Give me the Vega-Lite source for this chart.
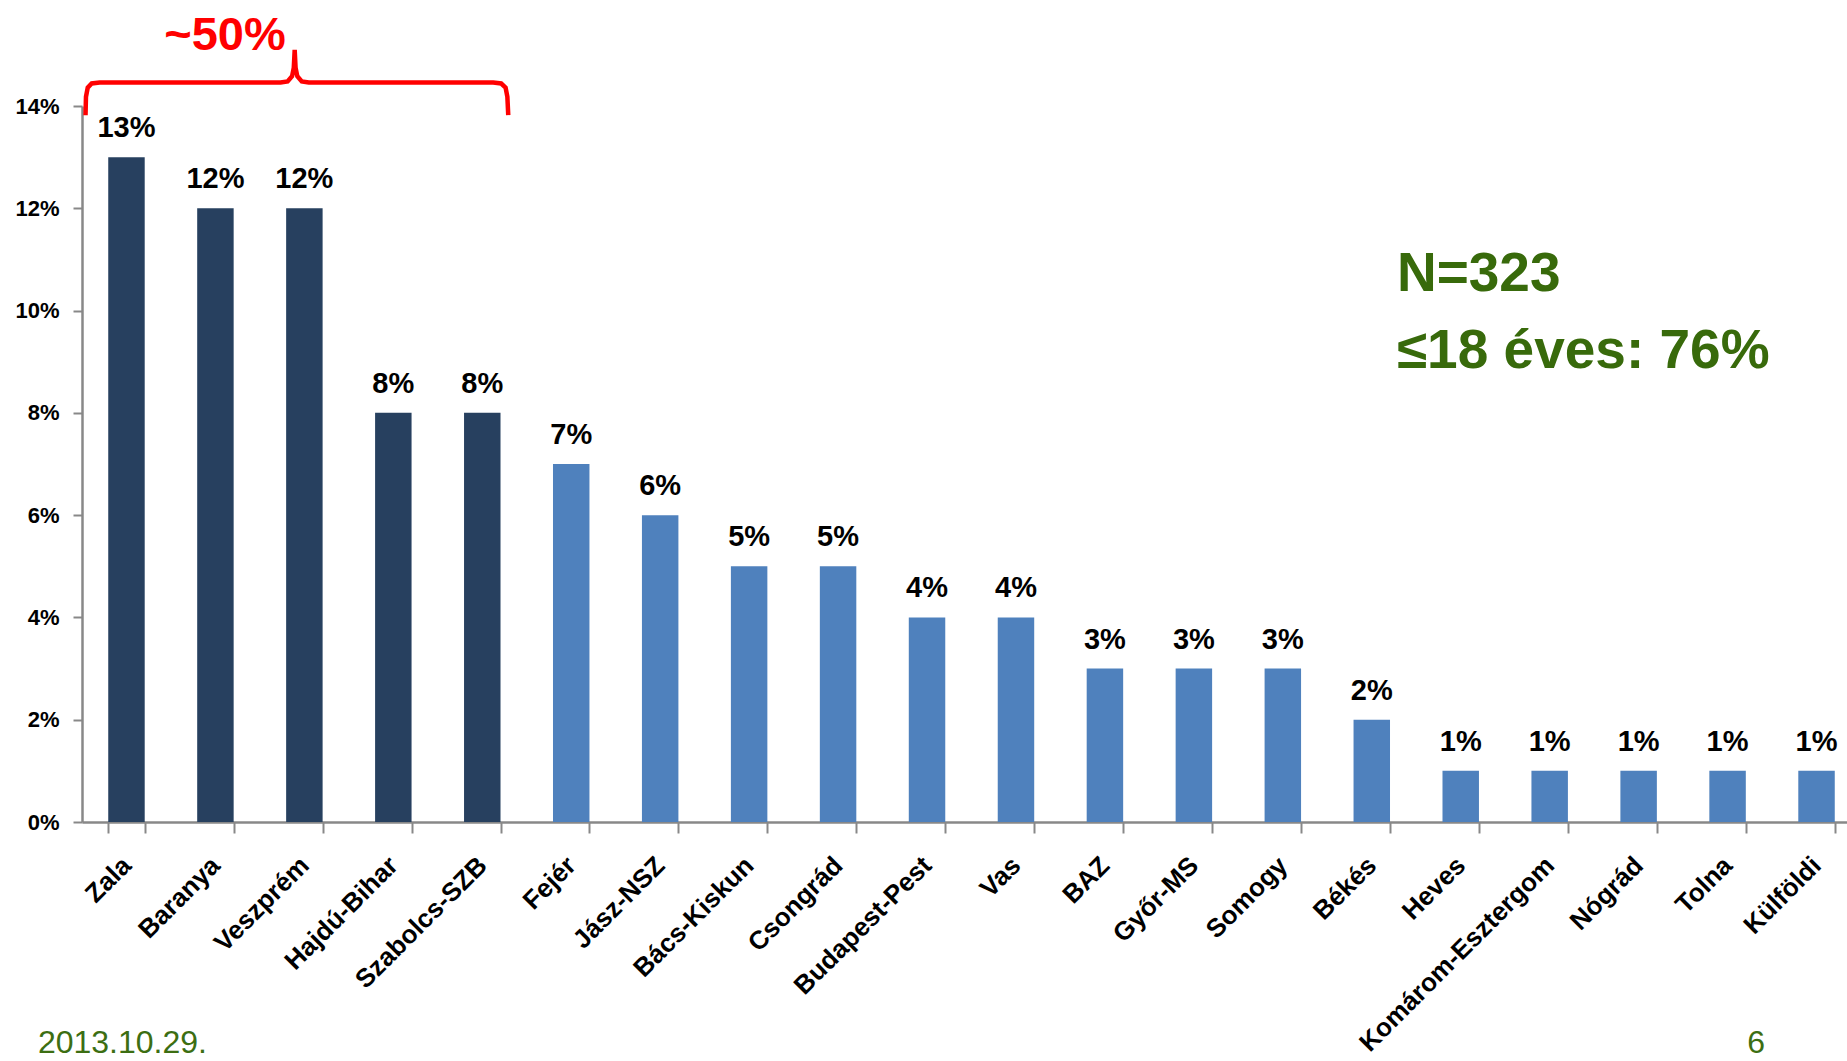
{
  "$schema": "https://vega.github.io/schema/vega-lite/v6.json",
  "autosize": {"type": "none"},
  "width": 1765,
  "height": 716,
  "padding": {"left": 82, "top": 106, "right": 0, "bottom": 239},
  "background": "white",
  "config": {"view": {"stroke": null}, "font": "Liberation Sans"},
  "datasets": {
    "regions": [
      {"region": "Zala", "pct": 13, "group": "top"},
      {"region": "Baranya", "pct": 12, "group": "top"},
      {"region": "Veszprém", "pct": 12, "group": "top"},
      {"region": "Hajdú-Bihar", "pct": 8, "group": "top"},
      {"region": "Szabolcs-SZB", "pct": 8, "group": "top"},
      {"region": "Fejér", "pct": 7, "group": "rest"},
      {"region": "Jász-NSZ", "pct": 6, "group": "rest"},
      {"region": "Bács-Kiskun", "pct": 5, "group": "rest"},
      {"region": "Csongrád", "pct": 5, "group": "rest"},
      {"region": "Budapest-Pest", "pct": 4, "group": "rest"},
      {"region": "Vas", "pct": 4, "group": "rest"},
      {"region": "BAZ", "pct": 3, "group": "rest"},
      {"region": "Győr-MS", "pct": 3, "group": "rest"},
      {"region": "Somogy", "pct": 3, "group": "rest"},
      {"region": "Békés", "pct": 2, "group": "rest"},
      {"region": "Heves", "pct": 1, "group": "rest"},
      {"region": "Komárom-Esztergom", "pct": 1, "group": "rest"},
      {"region": "Nógrád", "pct": 1, "group": "rest"},
      {"region": "Tolna", "pct": 1, "group": "rest"},
      {"region": "Külföldi", "pct": 1, "group": "rest"}
    ],
    "brace": [
      {"i": 0, "cx": 0.04, "cy": 13.82},
      {"i": 1, "cx": 0.045, "cy": 14.18},
      {"i": 2, "cx": 0.065, "cy": 14.36},
      {"i": 3, "cx": 0.11, "cy": 14.44},
      {"i": 4, "cx": 0.2, "cy": 14.46},
      {"i": 5, "cx": 2.25, "cy": 14.46},
      {"i": 6, "cx": 2.33, "cy": 14.48},
      {"i": 7, "cx": 2.38, "cy": 14.58},
      {"i": 8, "cx": 2.4, "cy": 14.75},
      {"i": 9, "cx": 2.41, "cy": 15.1},
      {"i": 10, "cx": 2.42, "cy": 14.75},
      {"i": 11, "cx": 2.44, "cy": 14.58},
      {"i": 12, "cx": 2.49, "cy": 14.48},
      {"i": 13, "cx": 2.57, "cy": 14.46},
      {"i": 14, "cx": 4.66, "cy": 14.46},
      {"i": 15, "cx": 4.75, "cy": 14.44},
      {"i": 16, "cx": 4.8, "cy": 14.36},
      {"i": 17, "cx": 4.82, "cy": 14.18},
      {"i": 18, "cx": 4.83, "cy": 13.82}
    ],
    "bracelabel": [{"cx": 1.62, "cy": 15.1, "label": "~50%"}],
    "notes": [
      {"cx": 14.9, "cy": 10.38, "label": "N=323"},
      {"cx": 14.9, "cy": 8.87, "label": "≤18 éves: 76%"}
    ],
    "footer": [
      {"cx": -0.5, "cy": -4.51, "label": "2013.10.29."},
      {"cx": 18.87, "cy": -4.51, "label": "6"}
    ]
  },
  "resolve": {"scale": {"x": "independent"}},
  "layer": [
    {
      "data": {"name": "regions"},
      "mark": {"type": "bar"},
      "encoding": {
        "x": {
          "field": "region", "type": "nominal", "sort": null,
          "scale": {"paddingInner": 0.59, "paddingOuter": 0.295, "range": [0, 1779]},
          "axis": {
            "title": null, "labelAngle": -45, "labelAlign": "right", "labelBaseline": "middle",
            "labelFont": "Liberation Sans", "labelFontWeight": "bold", "labelFontSize": 26,
            "labelColor": "black", "labelPadding": 28, "labelOverlap": false, "labelLimit": 0,
            "domainColor": "#888888", "domainWidth": 2.5, "tickColor": "#888888",
            "tickWidth": 2, "tickSize": 11, "tickBand": "extent"
          }
        },
        "y": {
          "field": "pct", "type": "quantitative",
          "scale": {"domain": [0, 14], "nice": false},
          "axis": {
            "title": null, "values": [0, 2, 4, 6, 8, 10, 12, 14],
            "labelExpr": "datum.value + '%'", "grid": false,
            "labelFont": "Liberation Sans", "labelFontWeight": "bold", "labelFontSize": 22,
            "labelColor": "black", "labelPadding": 14,
            "domainColor": "#888888", "domainWidth": 2.5, "tickColor": "#888888",
            "tickWidth": 2, "tickSize": 9
          }
        },
        "color": {
          "field": "group", "type": "nominal",
          "scale": {"domain": ["top", "rest"], "range": ["#27405F", "#4F81BD"]},
          "legend": null
        }
      }
    },
    {
      "data": {"name": "regions"},
      "transform": [{"calculate": "datum.pct + '%'", "as": "label"}],
      "mark": {"type": "text", "baseline": "alphabetic", "dy": -20, "font": "Liberation Sans", "fontWeight": "bold", "fontSize": 29, "color": "black"},
      "encoding": {
        "x": {"field": "region", "type": "nominal", "sort": null, "scale": {"paddingInner": 0.59, "paddingOuter": 0.295, "range": [0, 1779]}, "axis": null},
        "y": {"field": "pct", "type": "quantitative", "scale": {"domain": [0, 14], "nice": false}},
        "text": {"field": "label"}
      }
    },
    {
      "data": {"name": "brace"},
      "mark": {"type": "line", "color": "#FF0000", "strokeWidth": 4.5, "clip": false},
      "encoding": {
        "x": {"field": "cx", "type": "quantitative", "scale": {"domain": [0, 20], "nice": false, "zero": false}, "axis": null},
        "y": {"field": "cy", "type": "quantitative", "scale": {"domain": [0, 14], "nice": false}},
        "order": {"field": "i", "type": "quantitative"}
      }
    },
    {
      "data": {"name": "bracelabel"},
      "mark": {"type": "text", "align": "center", "baseline": "alphabetic", "font": "Liberation Sans", "fontWeight": "bold", "fontSize": 47, "color": "#FF0000"},
      "encoding": {
        "x": {"field": "cx", "type": "quantitative", "scale": {"domain": [0, 20], "nice": false, "zero": false}, "axis": null},
        "y": {"field": "cy", "type": "quantitative", "scale": {"domain": [0, 14], "nice": false}},
        "text": {"field": "label"}
      }
    },
    {
      "data": {"name": "notes"},
      "mark": {"type": "text", "align": "left", "baseline": "alphabetic", "font": "Liberation Sans", "fontWeight": "bold", "fontSize": 55, "color": "#386A0B"},
      "encoding": {
        "x": {"field": "cx", "type": "quantitative", "scale": {"domain": [0, 20], "nice": false, "zero": false}, "axis": null},
        "y": {"field": "cy", "type": "quantitative", "scale": {"domain": [0, 14], "nice": false}},
        "text": {"field": "label"}
      }
    },
    {
      "data": {"name": "footer"},
      "mark": {"type": "text", "align": "left", "baseline": "alphabetic", "font": "Liberation Sans", "fontSize": 32, "color": "#3C6E12"},
      "encoding": {
        "x": {"field": "cx", "type": "quantitative", "scale": {"domain": [0, 20], "nice": false, "zero": false}, "axis": null},
        "y": {"field": "cy", "type": "quantitative", "scale": {"domain": [0, 14], "nice": false}},
        "text": {"field": "label"}
      }
    }
  ]
}
